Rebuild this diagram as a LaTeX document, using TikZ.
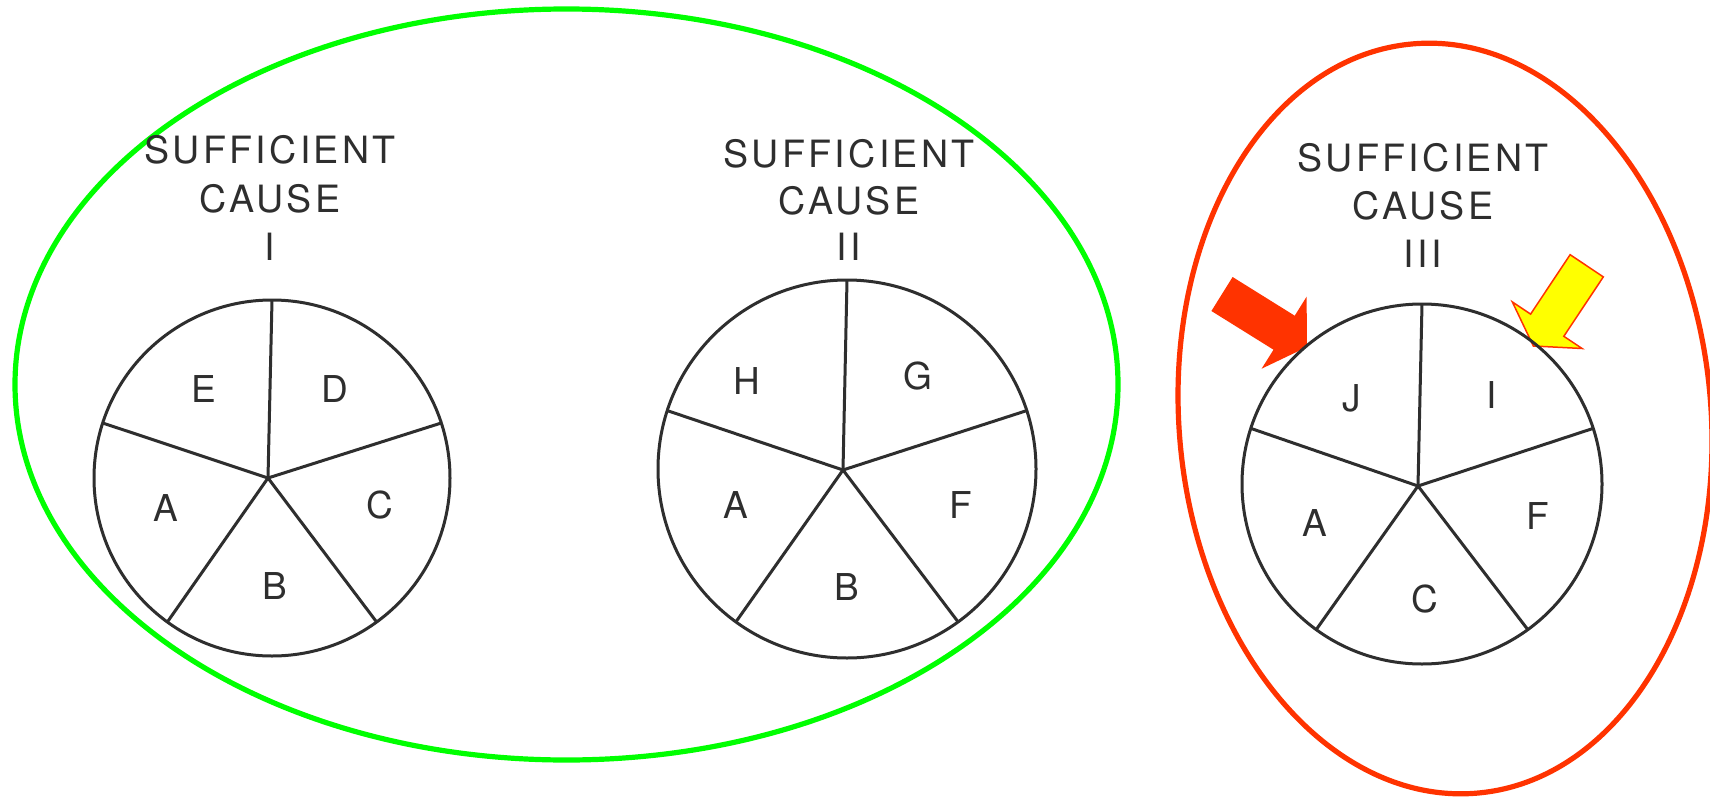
\documentclass[tikz,border=0pt]{standalone}
\usepackage{fontspec}
\setmainfont{TeX Gyre Heros}
\usetikzlibrary{calc}
\definecolor{ink}{HTML}{2E2E2E}
\definecolor{grn}{HTML}{00FF00}
\definecolor{redo}{HTML}{FF3300}
\definecolor{yel}{HTML}{FFFF00}
\tikzset{
  pieline/.style={draw=ink, line width=3pt},
  ttl/.style={text=ink, font=\fontsize{37.6}{46}\selectfont\addfontfeature{LetterSpace=9}, anchor=base, inner sep=0pt},
  lbl/.style={text=ink, font=\fontsize{37}{40}\selectfont, inner sep=0pt, anchor=center},
  grpgreen/.style={draw=grn, line width=5.2pt},
  grpred/.style={draw=redo, line width=5.2pt},
  redarrow/.style={fill=redo, draw=none},
  yelarrow/.style={fill=yel, draw=redo, line width=1.5pt, line join=miter},
}
\begin{document}
\begin{tikzpicture}[x=1pt,y=-1pt]
\useasboundingbox[fill=white] (0,0) rectangle (1710,797);

% group ellipses
\draw[grpgreen] (566.5,384.5) ellipse[x radius=551.5pt, y radius=375.5pt];
\draw[grpred, rotate around={4.9:(1445,418.5)}] (1445,418.5) ellipse[x radius=266pt, y radius=376pt];

% arrows
\fill[redarrow] (1211.4,311.0) -- (1273.5,349.7) -- (1261.6,368.7) -- (1307,347)
  -- (1306.6,296.7) -- (1294.7,315.7) -- (1232.6,277.0) -- cycle;
\filldraw[yelarrow] (1603.3,276.9) -- (1563.8,336.3) -- (1582.1,348.5) -- (1533.3,346)
  -- (1512.3,301.9) -- (1530.6,314.1) -- (1570.1,254.7) -- cycle;

% ---------- Pie I ----------
\coordinate (c1) at (272,478);
\coordinate (j1) at (268,478);
\draw[pieline] (c1) circle[radius=178pt];
\foreach \a in {90,162,234,306,18} \draw[pieline] (j1) -- ($(c1)+(\a:178pt)$);
\node[ttl] (t1a) at (270,164) {SUFFICIENT};
\node[ttl] (t1b) at (270,212) {CAUSE};
\node[ttl] (t1c) at (270,260) {I};
\node[lbl] (p1e) at (204,389) {E};
\node[lbl] (p1d) at (335,389) {D};
\node[lbl] (p1c) at (380,505) {C};
\node[lbl] (p1b) at (275,586) {B};
\node[lbl] (p1a) at (166,508) {A};

% ---------- Pie II ----------
\coordinate (c2) at (847,469);
\coordinate (j2) at (843,470);
\draw[pieline] (c2) circle[radius=189pt];
\foreach \a in {90,162,234,306,18} \draw[pieline] (j2) -- ($(c2)+(\a:189pt)$);
\node[ttl] (t2a) at (849,167) {SUFFICIENT};
\node[ttl] (t2b) at (849,214.5) {CAUSE};
\node[ttl] (t2c) at (849,260) {II};
\node[lbl] (p2h) at (747,381) {H};
\node[lbl] (p2g) at (918,376) {G};
\node[lbl] (p2f) at (961,505) {F};
\node[lbl] (p2b) at (847,587) {B};
\node[lbl] (p2a) at (736,505) {A};

% ---------- Pie III ----------
\coordinate (c3) at (1422,484);
\coordinate (j3) at (1418,486);
\draw[pieline] (c3) circle[radius=180pt];
\foreach \a in {90,162,234,306,18} \draw[pieline] (j3) -- ($(c3)+(\a:180pt)$);
\node[ttl] (t3a) at (1423,171) {SUFFICIENT};
\node[ttl] (t3b) at (1423,219) {CAUSE};
\node[ttl] (t3c) at (1423,267) {III};
\node[lbl] (p3j) at (1352,398) {J};
\node[lbl] (p3i) at (1492,395) {I};
\node[lbl] (p3f) at (1538,516) {F};
\node[lbl] (p3c) at (1425,599) {C};
\node[lbl] (p3a) at (1315,523) {A};
\end{tikzpicture}
\end{document}
